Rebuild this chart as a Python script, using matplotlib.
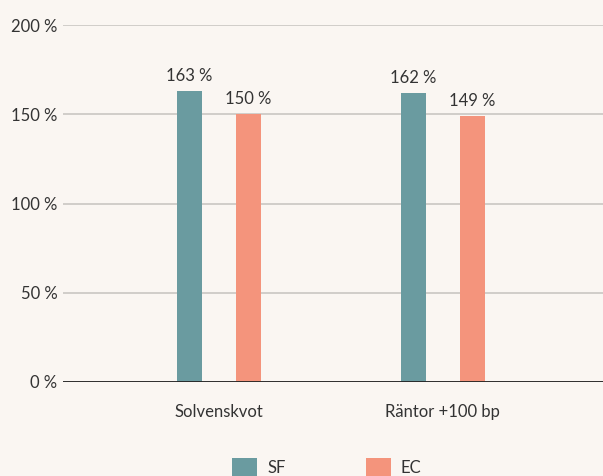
import matplotlib.pyplot as plt
import numpy as np

# data
categories = ["Solvenskvot", "Räntor +100 bp"]
series_names = ["SF", "EC"]
sf_values = [163, 162]
ec_values = [150, 149]
y_ticks = [0, 50, 100, 150, 200]

bg = "#faf6f2"
colors = ["#6a9ba0", "#f4947c"]
txt = "#333333"

plt.rcParams['font.family'] = ['Lato', 'DejaVu Sans']

fig = plt.figure(figsize=(6.03, 4.76), dpi=100, facecolor=bg)
ax = fig.add_axes([63 / 603, 94 / 476, 540 / 603, 357 / 476])
ax.set_facecolor(bg)

x = np.arange(len(categories))
width = 0.112
offset = 0.132

bars = []
for vals, off, col, name in zip([sf_values, ec_values], [-offset, offset], colors, series_names):
    b = ax.bar(x + off, vals, width, color=col, label=name, zorder=3)
    bars.append(b)
    for rect, v in zip(b, vals):
        ax.text(rect.get_x() + rect.get_width() / 2, v + 4, f"{v}\u202f%",
                ha="center", va="bottom", fontsize=12, color=txt)

ax.set_xlim(-0.698, 1.718)
ax.set_ylim(0, 200)
ax.set_yticks(y_ticks)
ax.set_yticklabels([f"{t}\u202f%" for t in y_ticks], fontsize=12, color=txt)
ax.set_xticks(x)
ax.set_xticklabels(categories, fontsize=12, color=txt)
ax.tick_params(axis="both", length=0)
ax.tick_params(axis="x", pad=16)
ax.tick_params(axis="y", pad=4)

ax.grid(axis="y", color="#c9c6c3", linewidth=1.2, zorder=0)
ax.axhline(0, color="#222222", linewidth=1.3, zorder=4)
for s in ax.spines.values():
    s.set_visible(False)

fig.legend(handles=bars, labels=series_names, loc="center", bbox_to_anchor=(0.542, 9 / 476),
           ncol=2, frameon=False, fontsize=12, handlelength=1.5, handleheight=1.3,
           columnspacing=4.8, handletextpad=0.6, labelcolor=txt)

fig.savefig("out.png", dpi=100, facecolor=bg)
